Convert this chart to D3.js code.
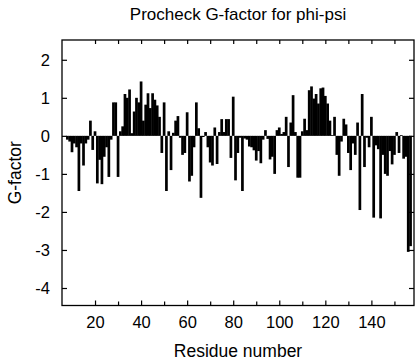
<!DOCTYPE html>
<html><head><meta charset="utf-8">
<script src="https://cdn.jsdelivr.net/npm/d3@7"></script>
<style>body{margin:0;background:#fff}svg{display:block}text{font-family:"Liberation Sans",Arial,Helvetica,sans-serif;fill:#000}</style>
</head><body>
<script>
const title = "Procheck G-factor for phi-psi";
const xLabel = "Residue number";
const yLabel = "G-factor";
const firstResidue = 8;
const gFactor = [
 -0.1,-0.15,-0.43,-0.2,-0.3,-1.45,-0.2,-0.78,-0.2,-0.1,
 0.4,-0.37,0.12,-1.25,-0.63,-1.27,-0.55,-0.3,-1.08,-0.1,
 0.88,0.88,-1.08,0.12,0.25,1.1,1.0,1.22,0.07,0.64,
 1.0,0.88,1.43,0.4,0.82,1.12,0.73,1.12,0.95,0.8,
 0.5,-0.45,0.88,-1.45,0.12,-0.9,0.08,0.4,0.52,-0.05,
 -0.5,-0.45,0.62,-1.2,-1.05,-0.3,0.88,0.2,-1.63,-0.03,
 0.1,-0.3,-0.7,-0.78,0.22,-0.74,0.1,0.44,0.1,0.44,
 0.44,-0.58,1.03,-1.17,-0.45,-0.05,-1.45,-0.07,-0.1,-0.28,
 -0.3,-0.38,-0.65,-0.4,-0.72,-0.1,0.15,-0.08,-0.62,-0.55,
 -1.0,0.15,0.22,0.05,0.1,0.5,-0.82,0.35,1.07,0.1,
 -1.1,-1.1,0.12,0.45,0.15,1.2,1.3,0.98,1.1,0.85,
 1.25,1.27,1.05,0.85,0.4,0.02,0.5,-0.5,-1.05,-0.15,
 0.45,0.3,-0.45,-0.9,-0.2,-0.5,0.35,-1.95,1.1,-0.82,
 -0.05,-0.3,0.5,-2.15,-0.25,-0.35,-2.17,-0.5,-1.0,-1.05,
 -0.4,-0.75,-0.5,0.1,-0.45,0.02,-0.6,-0.55,-3.05,-2.9
];
const residues = gFactor.map((v,i)=>firstResidue+i);
const xMajorTicks = [20,40,60,80,100,120,140];
const xMinorTicks = [30,50,70,90,110,130,150];
const yTicks = [-4,-3,-2,-1,0,1,2];
const xDomain = [5.66,158.5];
const yDomain = [-4.46,2.52];

(function(){
const W=416,H=360, L=62,R=414,T=40,B=305.5;
const svg=d3.select("body").append("svg").attr("width",W).attr("height",H);
const x=d3.scaleLinear().domain(xDomain).range([L,R]);
const y=d3.scaleLinear().domain(yDomain).range([B,T]);
const bw = x(1)-x(0);

svg.append("g").selectAll("rect").data(residues).join("rect")
  .attr("x",d=>x(d)-bw/2-0.2).attr("width",bw+0.4)
  .attr("y",(d,i)=>y(Math.max(0,gFactor[i])))
  .attr("height",(d,i)=>Math.max(0.8,Math.abs(y(gFactor[i])-y(0))))
  .attr("fill","#000");

svg.append("rect").attr("x",L).attr("y",T).attr("width",R-L).attr("height",B-T)
  .attr("fill","none").attr("stroke","#000").attr("stroke-width",1.3);

const fmt=d=>d<0?"-"+Math.abs(d):String(d);
const gBottom=svg.append("g").attr("transform",`translate(0,${B})`)
  .call(d3.axisBottom(x).tickValues(xMajorTicks).tickSize(-5).tickPadding(13).tickFormat(fmt));
const gBottomMinor=svg.append("g").attr("transform",`translate(0,${B})`)
  .call(d3.axisBottom(x).tickValues(xMinorTicks).tickSize(-4).tickFormat(""));
const gTop=svg.append("g").attr("transform",`translate(0,${T})`)
  .call(d3.axisTop(x).tickValues(xMajorTicks.concat(xMinorTicks)).tickSize(-4).tickFormat(""));
const gLeft=svg.append("g").attr("transform",`translate(${L},0)`)
  .call(d3.axisLeft(y).tickValues(yTicks).tickSize(-5).tickPadding(13).tickFormat(fmt));
const gRight=svg.append("g").attr("transform",`translate(${R},0)`)
  .call(d3.axisRight(y).tickValues(yTicks).tickSize(-5).tickFormat(""));
[gBottom,gBottomMinor,gTop,gLeft,gRight].forEach(g=>{
  g.select(".domain").remove();
  g.selectAll("line").attr("stroke","#000").attr("stroke-width",1.2);
  g.selectAll("text").style("font-size","16.5px").attr("fill","#000")
   .style("font-family",'"Liberation Sans",Arial,Helvetica,sans-serif');
});
gBottom.selectAll("text").attr("dy","0.71em").attr("y",11);
gLeft.selectAll("text").attr("x",-12);

svg.append("text").attr("x",(L+R)/2).attr("y",20).attr("text-anchor","middle")
  .style("font-size","17px").text(title);
svg.append("text").attr("x",(L+R)/2).attr("y",357).attr("text-anchor","middle")
  .style("font-size","17.5px").text(xLabel);
svg.append("text").attr("transform",`translate(21,${(T+B)/2}) rotate(-90)`).attr("text-anchor","middle")
  .style("font-size","17.5px").text(yLabel);
})();
</script>
</body></html>
